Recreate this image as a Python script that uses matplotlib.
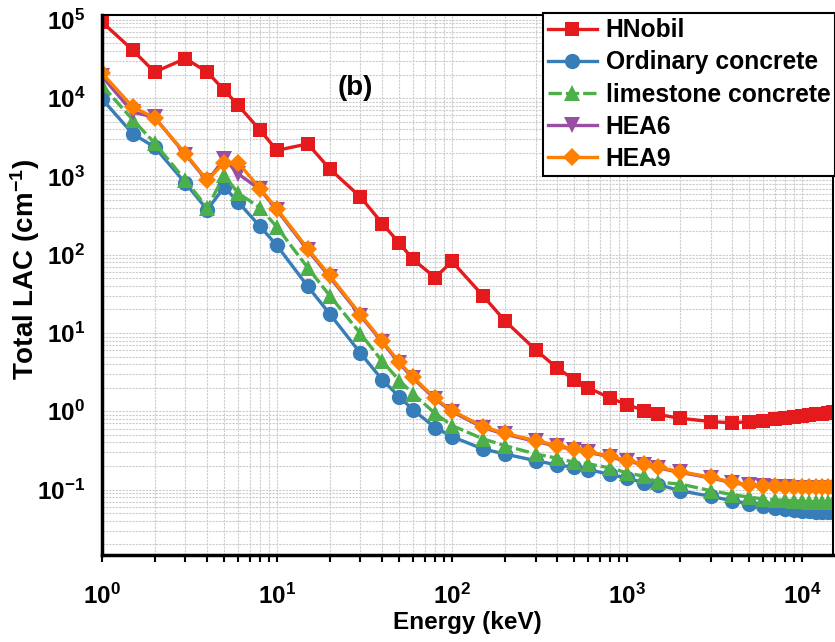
import numpy as np
import matplotlib
matplotlib.use("Agg")
import matplotlib.pyplot as plt
from matplotlib.ticker import LogLocator, FuncFormatter, NullFormatter

plt.rcParams['font.family'] = 'Liberation Sans'
plt.rcParams['font.weight'] = 'bold'
plt.rcParams['mathtext.fontset'] = 'custom'
plt.rcParams['mathtext.rm'] = 'Liberation Sans:bold'
plt.rcParams['mathtext.bf'] = 'Liberation Sans:bold'
plt.rcParams['mathtext.it'] = 'Liberation Sans:bold'

# photon energy grid (keV)
energy = [1, 1.5, 2, 3, 4, 5, 6, 8, 10, 15, 20, 30, 40, 50, 60, 80, 100,
          150, 200, 300, 400, 500, 600, 800, 1000, 1250, 1500, 2000, 3000,
          4000, 5000, 6000, 7000, 8000, 9000, 10000, 11000, 12000, 13000,
          14000, 15000]

# total linear attenuation coefficient (cm^-1)
hnobil = [9.4e4, 4.1e4, 2.15e4, 3.2e4, 2.15e4, 1.26e4, 8.1e3, 3.9e3, 2.15e3,
          2.6e3, 1.25e3, 545, 250, 140, 87, 51, 82, 30, 14.4, 6.1, 3.55, 2.52,
          2.0, 1.47, 1.22, 1.02, 0.91, 0.815, 0.74, 0.71, 0.74, 0.76, 0.79,
          0.82, 0.845, 0.87, 0.895, 0.915, 0.935, 0.955, 0.975]
ordinary = [9.8e3, 3.5e3, 2.37e3, 820, 375, 730, 470, 230, 131, 39.3, 17.6,
            5.52, 2.52, 1.53, 1.04, 0.62, 0.475, 0.33, 0.285, 0.234, 0.206,
            0.193, 0.18, 0.156, 0.14, 0.122, 0.116, 0.097, 0.082, 0.072,
            0.066, 0.061, 0.058, 0.056, 0.055, 0.054, 0.053, 0.052, 0.052,
            0.051, 0.051]
limestone = [1.46e4, 5.3e3, 2.67e3, 890, 398, 1.03e3, 612, 398, 225, 68,
             30.1, 9.8, 4.33, 2.47, 1.67, 0.94, 0.657, 0.445, 0.365, 0.285,
             0.251, 0.223, 0.213, 0.189, 0.163, 0.148, 0.124, 0.118, 0.097,
             0.086, 0.080, 0.076, 0.074, 0.073, 0.072, 0.071, 0.070, 0.070,
             0.069, 0.069, 0.069]
hea6 = [1.9e4, 6.6e3, 5.7e3, 1.9e3, 870, 1.68e3, 1.08e3, 680, 372, 114, 52,
        16.6, 7.6, 4.1, 2.63, 1.43, 0.99, 0.62, 0.51, 0.412, 0.356, 0.322,
        0.299, 0.261, 0.23, 0.208, 0.189, 0.166, 0.141, 0.122, 0.114, 0.110,
        0.108, 0.107, 0.106, 0.106, 0.105, 0.105, 0.105, 0.105, 0.105]
hea9 = [2.09e4, 7.7e3, 5.6e3, 1.95e3, 890, 1.5e3, 1.5e3, 700, 385, 119, 54.3,
        17.2, 7.85, 4.24, 2.72, 1.47, 1.02, 0.638, 0.524, 0.423, 0.365, 0.33,
        0.306, 0.267, 0.235, 0.213, 0.193, 0.17, 0.144, 0.124, 0.116, 0.112,
        0.110, 0.109, 0.108, 0.108, 0.107, 0.107, 0.107, 0.107, 0.107]

series = [
    ("HNobil", hnobil, '#E41A1C', 's', '-', 10.5),
    ("Ordinary concrete", ordinary, '#377EB8', 'o', '-', 11),
    ("limestone concrete", limestone, '#4DAF4A', '^', (0, (4, 1.2)), 11),
    ("HEA6", hea6, '#984EA3', 'v', '-', 11),
    ("HEA9", hea9, '#FF7F00', 'D', '-', 9.5),
]

fig = plt.figure(figsize=(8.35, 6.42), dpi=100)
ax = fig.add_axes([0.122, 0.1355, 0.8756, 0.8411])

for name, vals, color, marker, ls, ms in series:
    ax.plot(energy, vals, color=color, marker=marker, linestyle=ls,
            linewidth=2.4, markersize=ms, markeredgewidth=0, label=name)

ax.set_xscale('log')
ax.set_yscale('log')
ax.set_xlim(1, 15000)
ax.set_ylim(0.0146, 1.15e5)

ax.xaxis.set_major_locator(LogLocator(base=10, numticks=10))
ax.yaxis.set_major_locator(LogLocator(base=10, numticks=10))
ax.xaxis.set_minor_locator(LogLocator(base=10, subs=np.arange(2, 10), numticks=20))
ax.yaxis.set_minor_locator(LogLocator(base=10, subs=np.arange(2, 10), numticks=20))
fmt = FuncFormatter(lambda v, p: r'$\mathbf{10^{%d}}$' % round(np.log10(v)))
ax.xaxis.set_major_formatter(fmt)
ax.yaxis.set_major_formatter(fmt)
ax.xaxis.set_minor_formatter(NullFormatter())
ax.yaxis.set_minor_formatter(NullFormatter())

ax.grid(True, which='both', color='#cccccc', linestyle=(0, (2, 1)), linewidth=0.8)
ax.set_axisbelow(True)

ax.tick_params(axis='x', which='major', direction='out', length=5, width=1.5,
               labelsize=17.5, pad=16)
ax.tick_params(axis='x', which='minor', direction='out', length=5, width=1.5)
ax.tick_params(axis='y', which='both', length=0, labelsize=17.5, pad=12)

for side in ['left', 'bottom']:
    ax.spines[side].set_linewidth(2.5)
for side in ['top', 'right']:
    ax.spines[side].set_linewidth(1.5)

ax.set_xlabel('Energy (keV)', fontsize=17.5, fontweight='bold', labelpad=1)
ax.set_ylabel(r'Total LAC (cm$^{\mathbf{-1}}$)', fontsize=20, fontweight='bold')
ax.yaxis.set_label_coords(-0.082, 0.528)

ax.text(0.347, 0.865, '(b)', transform=ax.transAxes, fontsize=20,
        fontweight='bold', ha='center', va='center')

leg = ax.legend(loc='upper right', bbox_to_anchor=(1.003, 1.003), fontsize=17.7,
                frameon=True, fancybox=False, edgecolor='black',
                handlelength=2.0, handletextpad=0.35, labelspacing=0.33,
                borderpad=0.2, borderaxespad=0)
leg.get_frame().set_linewidth(1.5)
leg.get_frame().set_alpha(1)

fig.savefig('out.png', dpi=100)
